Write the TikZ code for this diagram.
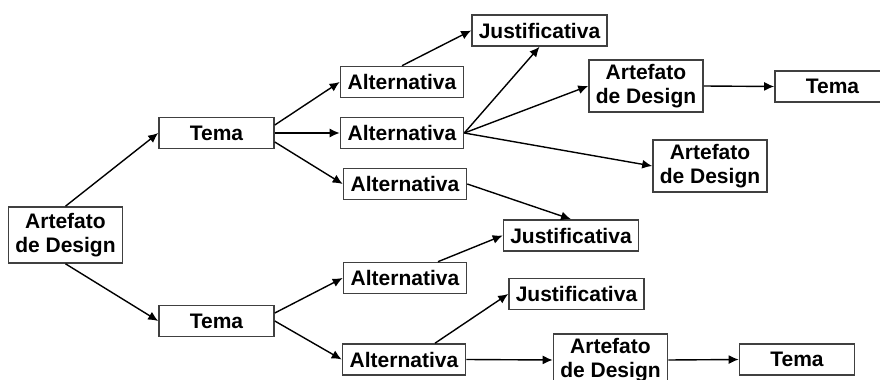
\documentclass[tikz,border=0pt]{standalone}
\usepackage{fontspec}
\setmainfont{Liberation Sans}
\usetikzlibrary{arrows.meta}

\tikzset{
  box/.style={draw=black!75, line width=0.8pt, fill=white, inner sep=0pt,
    align=center, minimum height=15.5pt,
    font=\bfseries\fontsize{10.5}{12.3}\selectfont},
  tema/.style={box, minimum width=57.5pt},
  alt/.style={box, minimum width=61.5pt},
  just/.style={box, minimum width=67.5pt},
  art/.style={box, minimum width=57pt, minimum height=26pt},
  link/.style={-{Latex[length=5pt,width=4.5pt]}, line width=0.7pt}
}

\begin{document}
\begin{tikzpicture}[x=0.5pt, y=-0.5pt]
  \useasboundingbox (0,0) rectangle (880,380);
  \clip (0,0) rectangle (880,380);

  % root and the two themes
  \node[art, minimum height=28pt] (art0) at (65.5,235) {Artefato\\de Design};
  \node[tema] (tema1) at (216.5,133) {Tema};
  \node[tema] (tema2) at (216.5,321) {Tema};

  % alternatives
  \node[alt] (alt1) at (402,82) {Alternativa};
  \node[alt] (alt2) at (402,133) {Alternativa};
  \node[alt] (alt3) at (405,184) {Alternativa};
  \node[alt] (alt4) at (405,278) {Alternativa};
  \node[alt] (alt5) at (404,359.5) {Alternativa};

  % justifications
  \node[just] (just1) at (539.5,30.5) {Justificativa};
  \node[just] (just2) at (571,235.5) {Justificativa};
  \node[just] (just3) at (576.5,294) {Justificativa};

  % artefacts and their themes
  \node[art] (art1) at (646,86) {Artefato\\de Design};
  \node[art] (art2) at (710,166) {Artefato\\de Design};
  \node[art] (art3) at (610.5,360) {Artefato\\de Design};
  \node[tema] (tema3) at (832.5,86.5) {Tema};
  \node[tema] (tema4) at (797,359.5) {Tema};

  \draw[link] (art0.north) -- (tema1.west);
  \draw[link] (art0.south) -- (tema2.west);
  \draw[link] ([yshift=4pt]tema1.east) -- (alt1.west);
  \draw[link] ([yshift=-4.5pt]tema1.east) -- (alt3.west);
  \draw[link] ([yshift=4pt]tema2.east) -- (alt4.west);
  \draw[link] (alt1.north) -- (just1.west);
  \draw[link] ([xshift=16.5pt]alt4.north) -- (just2.west);
  \draw[link] ([xshift=15.5pt]alt5.north) -- (just3.west);
  \draw[link] (alt3.east) -- (just2.north);
  \draw[link] (alt2.east) -- (just1.south);
  \foreach \a/\b in {tema1/alt2, tema2/alt5, alt2/art1, alt2/art2,
                     art1/tema3, alt5/art3, art3/tema4}{
    \draw[link] (\a.east) -- (\b.west);
  }
\end{tikzpicture}
\end{document}
